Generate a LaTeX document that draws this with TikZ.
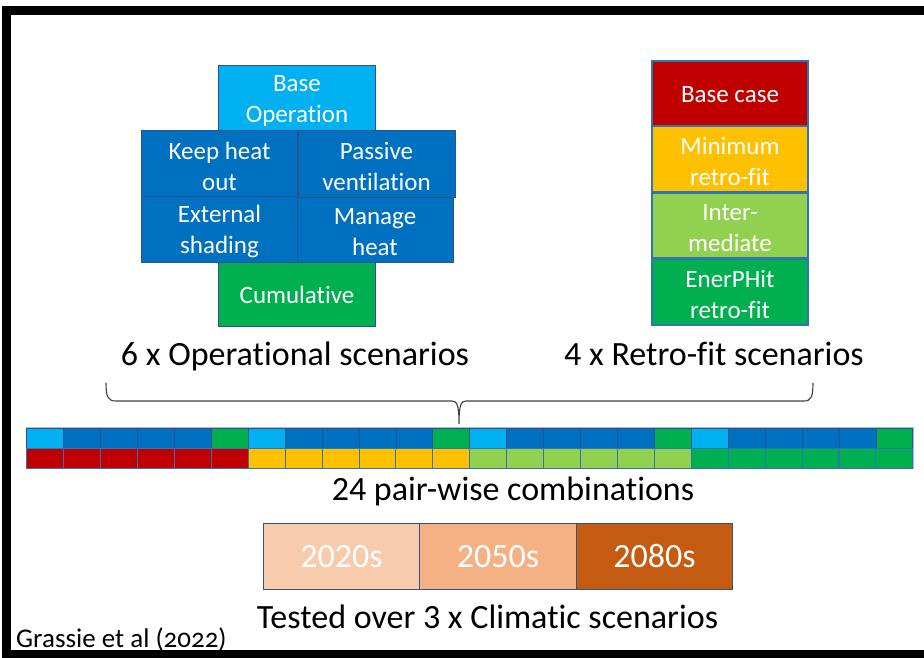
\documentclass[tikz,border=0pt]{standalone}
\usepackage{fontspec}
\setmainfont{Carlito}[Ligatures=NoCommon]
\begin{document}
\begin{tikzpicture}[x=1pt,y=-1pt]
% palette
\definecolor{skyblue}{HTML}{00B0F0}
\definecolor{midblue}{HTML}{0070C0}
\definecolor{grn}{HTML}{00B050}
\definecolor{lgrn}{HTML}{92D050}
\definecolor{redc}{HTML}{C00000}
\definecolor{amber}{HTML}{FFC000}
\definecolor{peachA}{HTML}{F8CBAD}
\definecolor{peachB}{HTML}{F4B183}
\definecolor{rust}{HTML}{C55A11}
\definecolor{navyline}{HTML}{2F528F}
\definecolor{blueline}{HTML}{2E75B6}
\definecolor{paleline}{HTML}{A9BCDD}
\definecolor{bracec}{HTML}{404040}
\tikzset{
  opbox/.style={draw=navyline, line width=1pt, inner sep=0pt},
  rfbox/.style={draw=blueline, line width=1.6pt, inner sep=0pt,
    minimum width=156pt, minimum height=65.5pt},
  boxtext/.style={inner sep=0pt, text=white, align=center,
    font=\fontsize{25}{31}\selectfont},
  clbox/.style={draw=navyline, line width=1pt, inner sep=0pt, text=white,
    font=\fontsize{34}{40}\selectfont, minimum width=156.5pt, minimum height=66pt},
  cellt/.style={draw=navyline, line width=0.7pt, inner sep=0pt,
    minimum width=36.9pt, minimum height=20pt},
  cellb/.style={draw=blueline, line width=0.9pt, inner sep=0pt,
    minimum width=36.9pt, minimum height=20pt},
  caption/.style={font=\fontsize{34}{40}\selectfont, anchor=base, inner sep=0pt},
}
\useasboundingbox (0,0) rectangle (924,658);
\fill[white] (0,0) rectangle (924,658);

% frame
\draw[line width=9pt] (924,10.5) -- (6.5,10.5) -- (6.5,654.5) -- (924,654.5);
\draw[line width=6pt] (6.5,10) -- (6.5,656);

% operational scenarios
\node[opbox, fill=skyblue, minimum width=157.5pt, minimum height=65pt] (base) at (297,98.5) {};
\node[opbox, fill=midblue, minimum width=156.5pt, minimum height=65pt] (keep) at (219.5,163.5) {};
\node[opbox, fill=midblue, minimum width=157pt, minimum height=66pt] (pass) at (376.5,164) {};
\node[opbox, fill=midblue, minimum width=156pt, minimum height=66pt] (ext) at (219.5,229) {};
\node[opbox, fill=midblue, minimum width=156pt, minimum height=65pt] (mng) at (375,229.5) {};
\node[opbox, fill=grn, minimum width=157.5pt, minimum height=64.5pt] (cum) at (297,294.5) {};
\node[boxtext] (baseT) at ([yshift=-2.5pt]base.center) {Base\\Operation};
\node[boxtext] (keepT) at ([yshift=-2.5pt]keep.center) {Keep heat\\out};
\node[boxtext] (passT) at ([yshift=-2.5pt]pass.center) {Passive\\ventilation};
\node[boxtext] (extT) at ([yshift=-2.5pt]ext.center) {External\\shading};
\node[boxtext] (mngT) at ([yshift=-2.5pt]mng.center) {Manage\\heat};
\node[boxtext] (cumT) at ([yshift=-0.5pt]cum.center) {Cumulative};

% retro-fit scenarios
\node[rfbox, fill=redc] (rbase) at (730,93.5) {};
\node[rfbox, fill=amber] (rmin) at (730,159) {};
\node[rfbox, fill=lgrn] (rint) at (730,225.5) {};
\node[rfbox, fill=grn] (reph) at (730,292) {};
\node[boxtext] (rbaseT) at ([yshift=-1.5pt]rbase.center) {Base case};
\node[boxtext] (rminT) at ([yshift=-2.5pt]rmin.center) {Minimum\\retro-fit};
\node[boxtext] (rintT) at ([yshift=-2.5pt]rint.center) {Inter-\\mediate};
\node[boxtext] (rephT) at ([yshift=-2.5pt]reph.center) {EnerPHit\\retro-fit};

% captions
\node[caption] (opcap) at (295,365) {6 x Operational scenarios};
\node[caption] (rfcap) at (714,365) {4 x Retro-fit scenarios};

% brace
\draw[bracec, line width=1.1pt]
  (106,383) .. controls (106,397) and (108,401) .. (116,401) -- (452,401)
  .. controls (457,401) and (459,405) .. (459,424)
  .. controls (459,405) and (461,401) .. (466,401) -- (804,401)
  .. controls (811,401) and (813,397) .. (813,383);

% pair-wise combinations strip
\draw[paleline, line width=1pt] (26,427.5) rectangle (913.5,468.5);
\foreach \c [count=\i from 0] in
  {skyblue,midblue,midblue,midblue,midblue,grn,
   skyblue,midblue,midblue,midblue,midblue,grn,
   skyblue,midblue,midblue,midblue,midblue,grn,
   skyblue,midblue,midblue,midblue,midblue,grn}
  \node[cellt, fill=\c] (top\i) at ({26.7+36.92*\i+18.46},438.3) {};
\foreach \c [count=\i from 0] in
  {redc,redc,redc,redc,redc,redc,
   amber,amber,amber,amber,amber,amber,
   lgrn,lgrn,lgrn,lgrn,lgrn,lgrn,
   grn,grn,grn,grn,grn,grn}
  \node[cellb, fill=\c] (bot\i) at ({26.7+36.92*\i+18.46},458.3) {};
\node[caption] (pwcap) at (513,500) {24 pair-wise combinations};

% climatic scenarios
\node[clbox, fill=peachA] (c20) at (341.5,556.3) {2020s};
\node[clbox, fill=peachB] (c50) at (498,556.3) {2050s};
\node[clbox, fill=rust] (c80) at (654.5,556.3) {2080s};
\node[caption] (clcap) at (487.5,628) {Tested over 3 x Climatic scenarios};

% citation
\node[anchor=base west, inner sep=0pt, font=\fontsize{27}{32}\selectfont\addfontfeatures{Numbers=OldStyle}] (cite) at (16,647) {Grassie et al (2022)};
\end{tikzpicture}
\end{document}
